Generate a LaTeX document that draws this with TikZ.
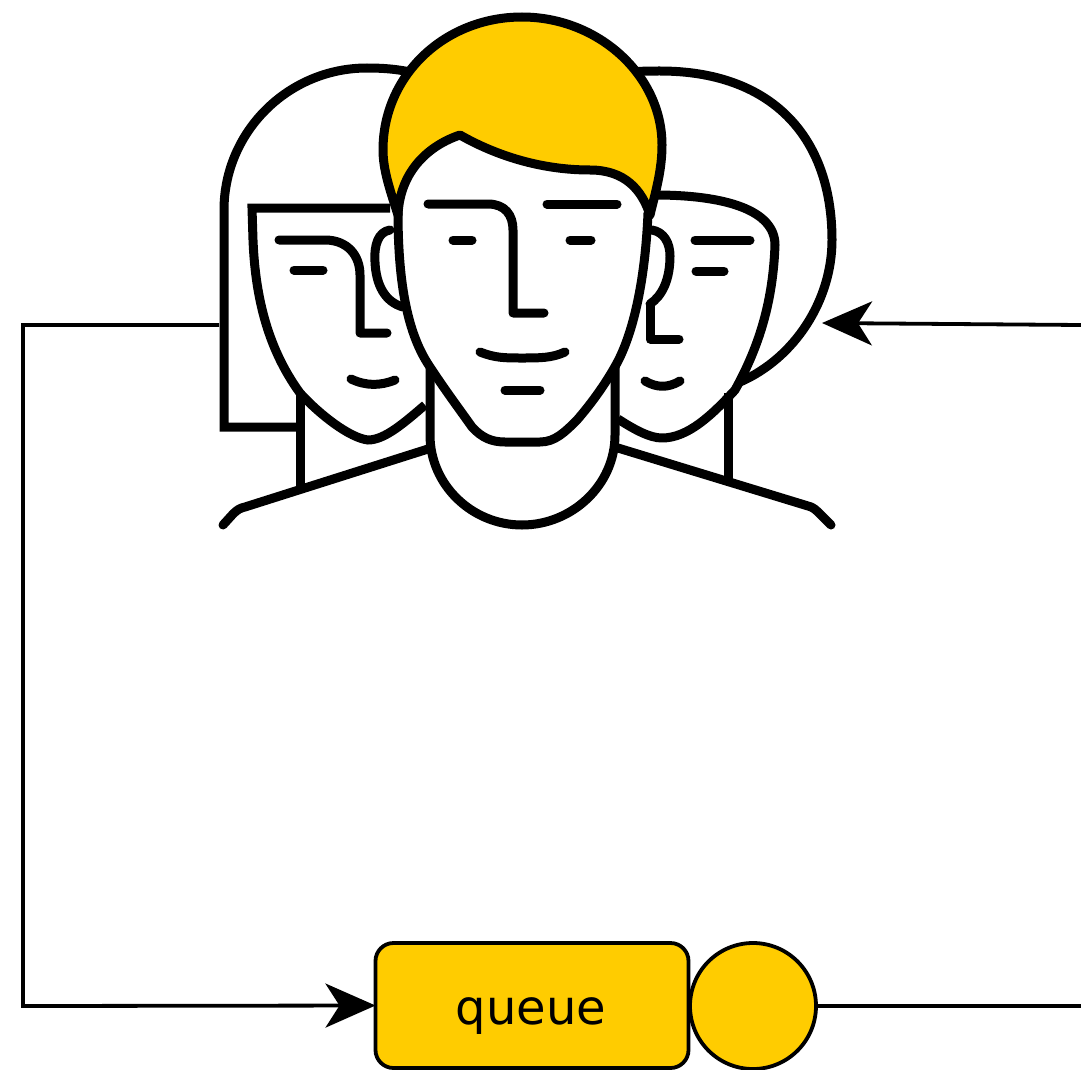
\documentclass[tikz,border=0pt]{standalone}
\usepackage{fontspec}
\setmainfont{DejaVu Sans}
\usetikzlibrary{arrows.meta}
\definecolor{amber}{HTML}{FFCC00}
\tikzset{
  face/.style={line width=9pt,line cap=round,line join=round,draw=black},
  link/.style={line width=3.8pt,draw=black,line join=miter},
  head/.style={-{Stealth[length=50pt,width=44pt,inset=14pt]}}
}
\begin{document}
\begin{tikzpicture}[x=1pt,y=-1pt]
\useasboundingbox (0,0) rectangle (1081,1070);
\fill[white] (0,0) rectangle (1081,1070);
% nodes
\node[draw=black,line width=3.8pt,fill=amber,rounded corners=18pt,minimum width=313pt,minimum height=125pt,inner sep=0pt,outer sep=0pt] (queue) at (532,1005.5) {};
\node[font=\fontsize{48}{48}\selectfont,inner sep=0pt] (qlabel) at (531,1016) {queue};
\node[draw=black,line width=3.8pt,fill=amber,circle,minimum size=126pt,inner sep=0pt,outer sep=0pt] (server) at (753,1006) {};
\coordinate (peopleL) at (219,325);
\coordinate (peopleR) at (822,323);
\coordinate (cornerT) at (23,325);
\coordinate (cornerB) at (23,1006);
\coordinate (exitT) at (1081,325);
\coordinate (exitB) at (1081,1006);
% connectors
\draw[link,head] (peopleL) -- (cornerT) -- (cornerB) -- (queue.west);
\draw[link,head] (exitT) -- (peopleR);
\draw[link] (server.east) -- (exitB);
% left person
\draw[face,line cap=butt,line join=miter] (410,72) .. controls (396,69) and (382,68) .. (367,68) .. controls (288,68) and (224,132) .. (224,210) -- (224,427) -- (300,427);
\draw[face,line cap=butt,line join=miter] (390,208) -- (252,208) -- (253,240) .. controls (255,290) and (265,345) .. (300,393) .. controls (320,415) and (350,438) .. (368,440) .. controls (385,440) and (405,422) .. (425,405);
\draw[face,line cap=butt] (300,392) -- (300,487);
\draw[face] (223,525) -- (233,514) .. controls (237,510) and (240,508) .. (245,507) -- (428,449);
\draw[face] (279,240) -- (325,240) .. controls (347,240) and (360,255) .. (360,275) -- (360,333) -- (387,333);
\draw[face] (294,270) -- (323,270);
\draw[face] (351,379) .. controls (366,386) and (380,386) .. (395,380);
\draw[face] (390,230) .. controls (378,232) and (374,245) .. (375,262) .. controls (376,285) and (385,302) .. (403,307);
% right person
\draw[face,line cap=butt] (633,72) .. controls (642,71) and (650,71) .. (660,71) .. controls (770,71) and (832,135) .. (832,240) .. controls (832,300) and (795,358) .. (740,382);
\draw[face,line cap=butt] (655,195) .. controls (725,195) and (775,210) .. (775,245) .. controls (773,300) and (760,345) .. (735,390) .. controls (712,415) and (688,438) .. (662,438) .. controls (650,438) and (635,430) .. (618,419);
\draw[face,line cap=butt] (728,393) -- (728,480);
\draw[face] (618,448) -- (808,506) .. controls (813,507) and (816,510) .. (820,514) -- (831,525);
\draw[face] (695,240) -- (750,240);
\draw[face] (696,271) -- (724,271);
\draw[face] (645,381) .. controls (657,388) and (668,388) .. (680,381);
\draw[face] (650,305) -- (650,339) -- (679,339);
\draw[face] (652,230) .. controls (664,232) and (670,243) .. (670,256) .. controls (670,280) and (662,296) .. (650,304);
% centre person: neck and face
\draw[face,fill=white] (430,360) -- (430,435) .. controls (430,485) and (472,525) .. (522,525) .. controls (572,525) and (615,485) .. (615,435) -- (615,360);
\draw[face,fill=white] (398,212) .. controls (398,285) and (408,335) .. (430,367) .. controls (445,390) and (460,410) .. (472,427) .. controls (482,438) and (492,442) .. (505,442) -- (540,442) .. controls (555,442) and (565,432) .. (577,420) .. controls (590,405) and (605,385) .. (617,363) .. controls (632,335) and (645,285) .. (648,213);
% centre person: hair
\draw[face,fill=amber] (398,215) .. controls (390,190) and (383,170) .. (383,150) .. controls (383,75) and (445,17) .. (522,17) .. controls (598,17) and (662,75) .. (662,145) .. controls (662,170) and (656,190) .. (650,215) .. controls (642,190) and (625,170) .. (590,170) .. controls (540,170) and (495,155) .. (460,135) .. controls (430,145) and (400,170) .. (398,215) -- cycle;
% centre person: features
\draw[face] (428,204) -- (488,204) .. controls (505,204) and (513,215) .. (513,230) -- (513,313) -- (544,313);
\draw[face] (547,204) -- (617,204);
\draw[face] (453,240) -- (472,240);
\draw[face] (570,240) -- (591,240);
\draw[face] (480,352) .. controls (495,358) and (505,358) .. (522,358) .. controls (540,358) and (552,358) .. (565,352);
\draw[face] (505,390) -- (540,390);
\end{tikzpicture}
\end{document}
